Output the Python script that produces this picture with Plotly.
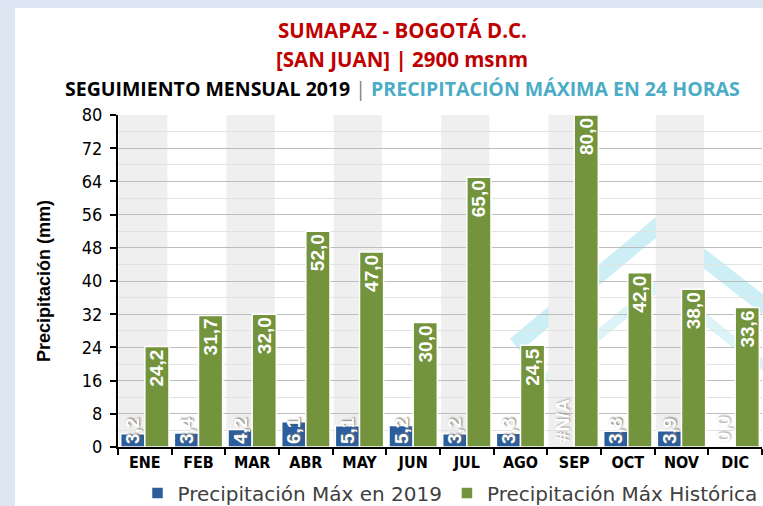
import plotly.graph_objects as go

months = ["ENE", "FEB", "MAR", "ABR", "MAY", "JUN", "JUL", "AGO", "SEP", "OCT", "NOV", "DIC"]
max_2019 = [3.2, 3.4, 4.2, 6.1, 5.1, 5.2, 3.2, 3.3, None, 3.8, 3.9, 0.0]
max_hist = [24.2, 31.7, 32.0, 52.0, 47.0, 30.0, 65.0, 24.5, 80.0, 42.0, 38.0, 33.6]
y_ticks = [0, 8, 16, 24, 32, 40, 48, 56, 64, 72, 80]


def fmt(v):
    return "#N/A" if v is None else f"{v:.1f}".replace(".", ",")


lab_2019 = [fmt(v) for v in max_2019]
lab_hist = [fmt(v) for v in max_hist]

W, H = 763, 506
L, R, T, B = 118, 1, 115, 59
pw, ph = W - L - R, H - T - B
NARROW = "Liberation Sans Narrow, Arial Narrow, DejaVu Sans Condensed, Liberation Sans, Arial"


def px_x(x):
    return (x - L) / pw


def px_y(y):
    return (H - B - y) / ph


fig = go.Figure()

fig.add_trace(go.Bar(
    x=months, y=max_2019, name="Precipitación Máx en 2019",
    marker=dict(color="#2d5e9c", line=dict(color="white", width=1.5)),
    text=lab_2019, textposition="inside", insidetextanchor="start",
    textangle=-90, constraintext="none", cliponaxis=False,
    textfont=dict(family="Liberation Sans", size=19, color="white", weight="bold",
                  shadow="1px 1px 2px #777"),
))
fig.add_trace(go.Bar(
    x=months, y=max_hist, name="Precipitación Máx Histórica",
    marker=dict(color="#74933d", line=dict(color="white", width=1.5)),
    text=lab_hist, textposition="inside", insidetextanchor="end",
    textangle=-90, constraintext="none",
    textfont=dict(family="Liberation Sans", size=19, color="white", weight="bold"),
))

shapes = [dict(type="rect", xref="paper", yref="paper",
               x0=px_x(15), x1=px_x(W + 5), y0=px_y(8), y1=px_y(H + 5),
               fillcolor="white", line=dict(width=0), layer="below")]
for i, m in enumerate(months):
    if i % 2 == 0:
        shapes.append(dict(type="rect", xref="x", yref="y",
                           x0=i - 0.48, x1=i + 0.42, y0=0, y1=80,
                           fillcolor="#efefef", line=dict(width=0), layer="below"))

# faint watermark logo (roof outline) behind the bars
def pp(x, y):
    return f"{px_x(x):.4f},{px_y(y):.4f}"


shapes.append(dict(type="path", xref="paper", yref="paper", layer="below",
                   path=f"M {pp(515, 345)} L {pp(660, 224)} L {pp(770, 310)}",
                   line=dict(color="rgba(140,220,232,0.45)", width=16)))
shapes.append(dict(type="path", xref="paper", yref="paper", layer="below",
                   path=f"M {pp(545, 380)} L {pp(660, 284)} L {pp(770, 370)}",
                   line=dict(color="rgba(140,220,232,0.30)", width=10)))

# labels of the 2019 series that the bar itself cannot carry (missing or zero values)
annotations = []
for m, v, t in zip(months, max_2019, lab_2019):
    if v is None or v == 0:
        annotations.append(dict(x=m, y=0, xref="x", yref="y", text=t, textangle=-90,
                                xshift=-12, yshift=3, yanchor="bottom", xanchor="center",
                                showarrow=False,
                                font=dict(family="Liberation Sans", size=19, color="white",
                                          weight="bold", shadow="1px 1px 2px #999")))

title_x = px_x(402)
annotations += [
    dict(xref="paper", yref="paper", x=title_x, y=px_y(30), xanchor="center", yanchor="middle",
         showarrow=False, text="SUMAPAZ - BOGOTÁ D.C.",
         font=dict(family="Open Sans", size=20.5, color="#c00000", weight="bold")),
    dict(xref="paper", yref="paper", x=title_x, y=px_y(59), xanchor="center", yanchor="middle",
         showarrow=False, text="[SAN JUAN] | 2900 msnm",
         font=dict(family="Open Sans", size=20.5, color="#c00000", weight="bold")),
    dict(xref="paper", yref="paper", x=title_x, y=px_y(88), xanchor="center", yanchor="middle",
         showarrow=False,
         text="SEGUIMIENTO MENSUAL 2019 <span style='color:#7f7f7f;font-weight:normal'>|</span> "
              "<span style='color:#4bacc6'>PRECIPITACIÓN MÁXIMA EN 24 HORAS</span>",
         font=dict(family="Open Sans", size=19.5, color="black", weight="bold")),
]

fig.update_layout(
    width=W, height=H,
    margin=dict(l=L, r=R, t=T, b=B, pad=0),
    paper_bgcolor="#dce6f2", plot_bgcolor="white",
    barmode="group", bargap=0.1, bargroupgap=0.0,
    shapes=shapes, annotations=annotations,
    showlegend=True,
    legend=dict(orientation="h", xref="container", yref="container",
                x=450 / W, xanchor="center", y=1 - 493 / H, yanchor="middle",
                font=dict(family="DejaVu Sans", size=20, color="#404040"),
                bgcolor="rgba(0,0,0,0)", itemwidth=30, tracegroupgap=0),
    xaxis=dict(showline=True, linecolor="black", linewidth=2, ticks="outside", ticklen=6,
               tickcolor="black", tickwidth=1.5, tickson="boundaries",
               tickfont=dict(family=NARROW, size=16, color="black", weight="bold"),
               showgrid=False, fixedrange=True),
    yaxis=dict(range=[0, 80], tickvals=y_ticks, showline=True, linecolor="black", linewidth=2,
               ticks="outside", ticklen=6, tickcolor="black", tickwidth=1.5,
               ticklabelstandoff=4,
               tickfont=dict(family=NARROW, size=18, color="black"),
               gridcolor="#bdbdbd", gridwidth=1, zeroline=False,
               minor=dict(dtick=4, showgrid=True, gridcolor="#e2e2e2", gridwidth=1),
               title=dict(text="Precipitación (mm)", standoff=26,
                          font=dict(family="Liberation Sans", size=18, color="black", weight="bold"))),
)

fig.write_html("out.html", config={"displayModeBar": False},
               post_script="document.body.style.margin='0';document.body.style.overflow='hidden';")
